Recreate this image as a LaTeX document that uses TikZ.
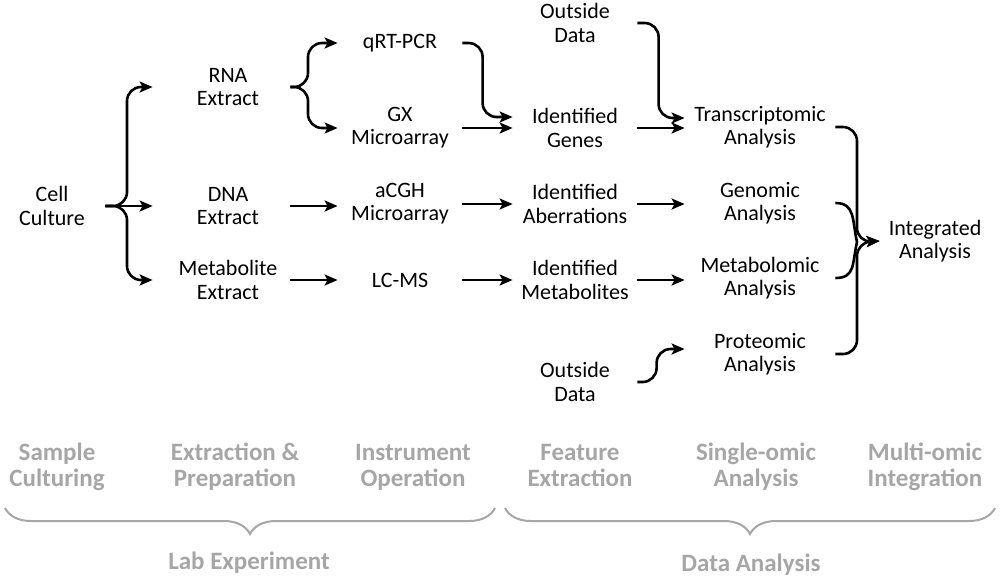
\documentclass[tikz,border=0pt]{standalone}
\usepackage{fontspec}
\setmainfont{Carlito}
\usetikzlibrary{arrows.meta,decorations.pathreplacing}
\definecolor{stagegray}{RGB}{166,166,166}
\tikzset{
  flow/.style={line width=1.3pt, -{Stealth[length=6.5pt,width=5.5pt,inset=1.5pt]}, rounded corners=7pt},
  feed/.style={line width=1.3pt},
  item/.style={align=center, inner sep=0pt, minimum width=62pt, font=\fontsize{11}{11.6}\selectfont},
  stage/.style={align=center, inner sep=0pt, text=stagegray, font=\fontsize{12.5}{13}\selectfont\bfseries},
  group/.style={draw=stagegray, line width=1pt, decorate, decoration={brace, mirror, amplitude=13pt}}
}
\begin{document}
\begin{tikzpicture}[x=0.5pt, y=-0.5pt]
    \useasboundingbox (0,0) rectangle (1000,580);

    \node[item, minimum width=53pt] (cc) at (52,206) {Cell\\Culture};
    \node[item] (rna) at (228,87) {RNA\\Extract};
    \node[item] (dna) at (228,206) {DNA\\Extract};
    \node[item] (met) at (228,280) {Metabolite\\Extract};
    \node[item] (qpcr) at (400,43) {qRT-PCR};
    \node[item] (gx) at (400,128) {GX\\Microarray};
    \node[item] (acgh) at (400,204) {aCGH\\Microarray};
    \node[item] (lcms) at (400,280) {LC-MS};
    \node[item] (od1) at (575,23) {Outside\\Data};
    \node[item] (genes) at (575,128) {Identified\\Genes};
    \node[item] (aber) at (575,204) {Identified\\Aberrations};
    \node[item] (metab) at (575,280) {Identified\\Metabolites};
    \node[item] (od2) at (575,382) {Outside\\Data};
    \node[item, minimum width=75pt] (trans) at (760,127) {Transcriptomic\\Analysis};
    \node[item, minimum width=75pt] (geno) at (760,203) {Genomic\\Analysis};
    \node[item, minimum width=75pt] (mbol) at (760,278) {Metabolomic\\Analysis};
    \node[item, minimum width=75pt] (prot) at (760,354) {Proteomic\\Analysis};
    \node[item, minimum width=55pt] (integ) at (935,241) {Integrated\\Analysis};

    \coordinate (fork1) at (127,206);
    \coordinate (fork2) at (308,87);
    \coordinate (fork3) at (857,242);

    \path[draw, flow] (cc.east) -- (fork1) |- ([xshift=-6.5pt]rna.west);
    \path[draw, flow] (cc.east) -- ([xshift=-6.5pt]dna.west);
    \path[draw, flow] (cc.east) -- (fork1) |- ([xshift=-6.5pt]met.west);
    \path[draw, flow] (rna.east) -- (fork2) |- (qpcr.west);
    \path[draw, flow] (rna.east) -- (fork2) |- (gx.west);
    \path[draw, flow] (dna.east) -- (dna.east -| acgh.west);
    \path[draw, flow] (met.east) -- (met.east -| lcms.west);
    \path[draw, flow] (qpcr.east) -| ([xshift=-15pt,yshift=5.5pt]genes.west) -- ([yshift=5.5pt]genes.west);
    \path[draw, flow] (gx.east) -- (gx.east -| genes.west);
    \path[draw, flow] (acgh.east) -- (acgh.east -| aber.west);
    \path[draw, flow] (lcms.east) -- (lcms.east -| metab.west);
    \path[draw, flow] (od1.east) -| ([xshift=-13pt,yshift=4.5pt]trans.west) -- ([yshift=4.5pt]trans.west);
    \path[draw, flow] (genes.east) -- (genes.east -| trans.west);
    \path[draw, flow] (aber.east) -- (aber.east -| geno.west);
    \path[draw, flow] (metab.east) -- (metab.east -| mbol.west);
    \path[draw, flow] (od2.east) -| ([xshift=-14pt,yshift=2.5pt]prot.west) -- ([yshift=2.5pt]prot.west);
    \path[draw, flow] (trans.east) -| (fork3) -- (integ.west);
    \path[draw, flow] (prot.east) -| (fork3) -- (integ.west);
    \path[draw, feed] (geno.east) .. controls +(20,0) and +(-5,-22) .. (fork3);
    \path[draw, feed] (mbol.east) .. controls +(20,0) and +(-5,22) .. (fork3);

    \node[stage] (sc) at (57,467) {Sample\\Culturing};
    \node[stage] (ep) at (235,467) {Extraction \&\\Preparation};
    \node[stage] (io) at (413,467) {Instrument\\Operation};
    \node[stage] (fe) at (580,465.5) {Feature\\Extraction};
    \node[stage] (so) at (756,467) {Single-omic\\Analysis};
    \node[stage] (mi) at (925,467) {Multi-omic\\Integration};
    \path[group] (5,508) -- (495,508);
    \path[group] (505,508) -- (995,508);
    \node[stage] (lab) at (249,563) {Lab Experiment};
    \node[stage] (data) at (751,565) {Data Analysis};
  \end{tikzpicture}
\end{document}
